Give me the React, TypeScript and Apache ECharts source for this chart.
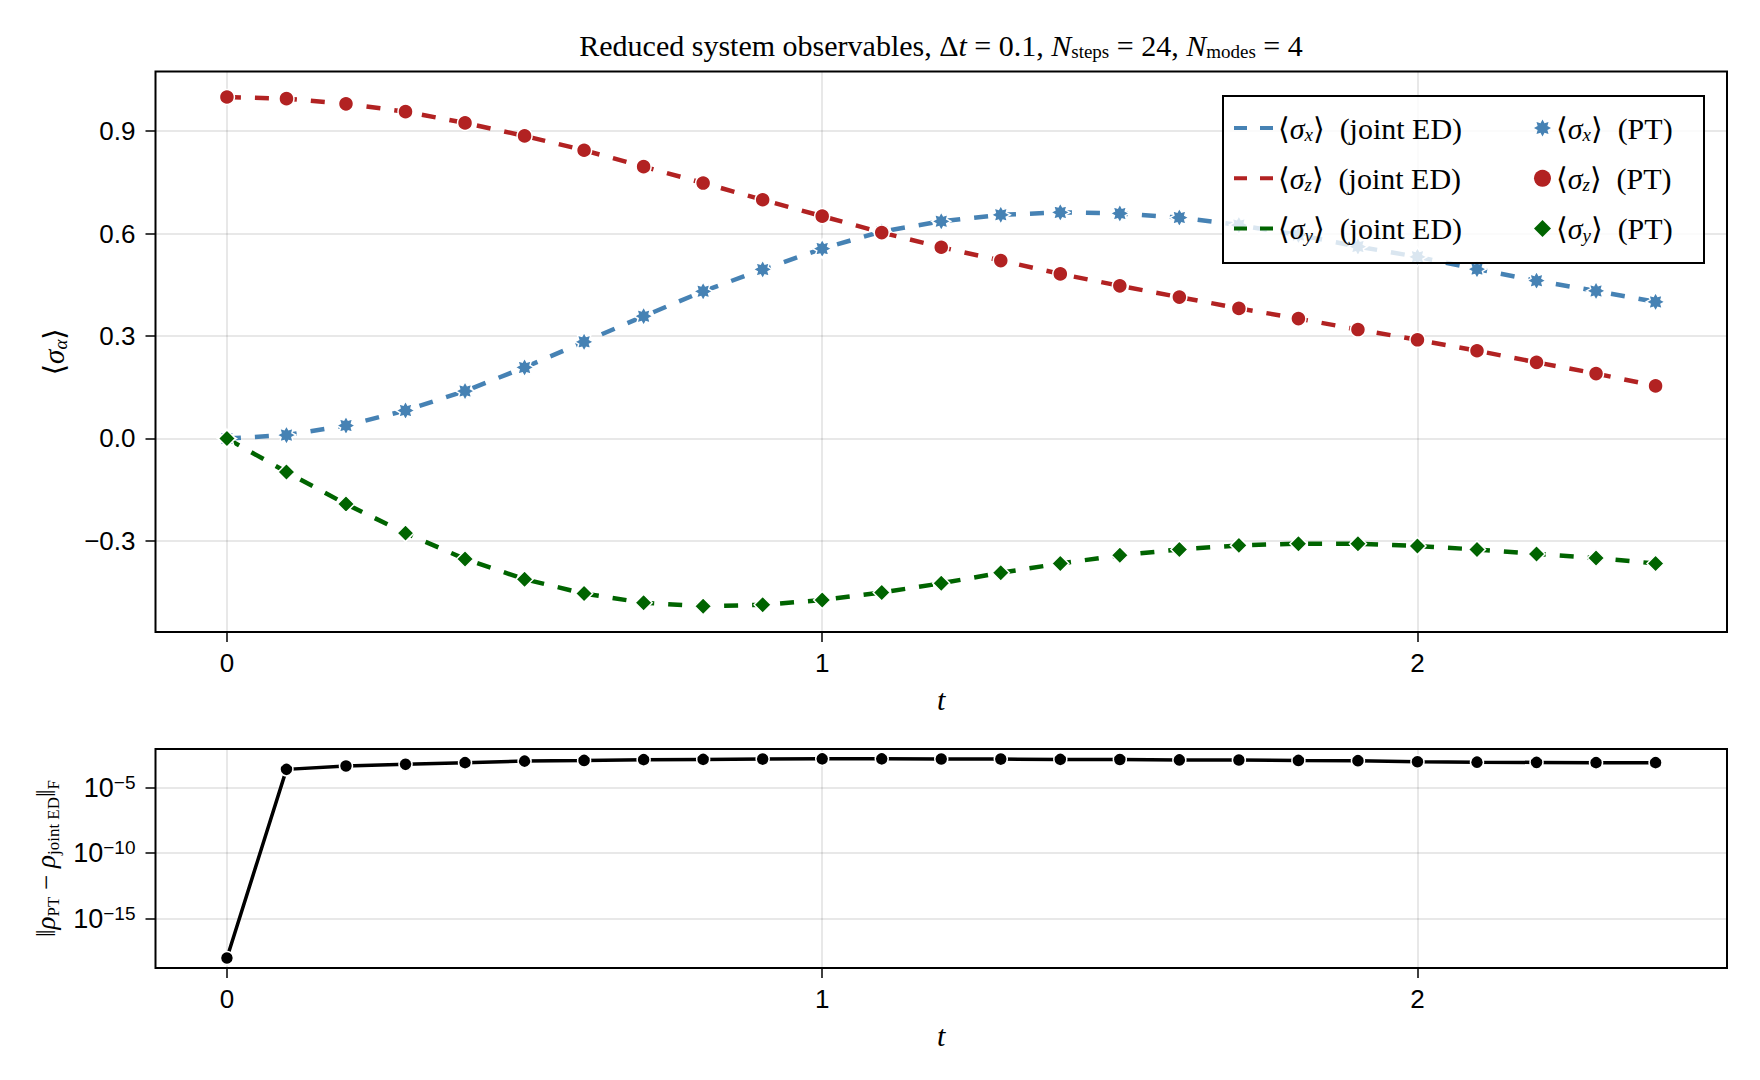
import React, { useEffect, useRef } from "react";
import * as echarts from "echarts";

// ---------- data ----------
const tValues = [0, 0.1, 0.2, 0.3, 0.4, 0.5, 0.6, 0.7, 0.8, 0.9, 1.0, 1.1, 1.2, 1.3, 1.4, 1.5, 1.6, 1.7, 1.8, 1.9, 2.0, 2.1, 2.2, 2.3, 2.4];
const sigmaX = [0, 0.010, 0.038, 0.082, 0.139, 0.208, 0.283, 0.358, 0.431, 0.495, 0.556, 0.606, 0.636, 0.655, 0.662, 0.659, 0.647, 0.625, 0.596, 0.562, 0.532, 0.496, 0.462, 0.432, 0.400];
const sigmaZ = [1.0, 0.995, 0.980, 0.957, 0.924, 0.886, 0.844, 0.796, 0.748, 0.699, 0.651, 0.603, 0.560, 0.521, 0.482, 0.447, 0.414, 0.381, 0.351, 0.319, 0.289, 0.257, 0.223, 0.190, 0.154];
const sigmaY = [0, -0.098, -0.192, -0.277, -0.353, -0.412, -0.454, -0.481, -0.491, -0.487, -0.473, -0.451, -0.424, -0.393, -0.366, -0.342, -0.325, -0.313, -0.308, -0.308, -0.315, -0.325, -0.338, -0.350, -0.366];
const errNorm = [1.07e-18, 2.4e-4, 4.3e-4, 5.8e-4, 7.8e-4, 1.02e-3, 1.15e-3, 1.32e-3, 1.38e-3, 1.45e-3, 1.51e-3, 1.51e-3, 1.48e-3, 1.45e-3, 1.38e-3, 1.35e-3, 1.26e-3, 1.23e-3, 1.15e-3, 1.10e-3, 9.1e-4, 8.5e-4, 8.1e-4, 7.8e-4, 7.8e-4];

const xTicks = [0, 1, 2];
const yTicksTop = [-0.3, 0, 0.3, 0.6, 0.9];
const yTickExponents = [-15, -10, -5];

const componentKeys = ["x", "z", "y"];
const edNames = ["⟨σx⟩ (joint ED)", "⟨σz⟩ (joint ED)", "⟨σy⟩ (joint ED)"];
const ptNames = ["⟨σx⟩ (PT)", "⟨σz⟩ (PT)", "⟨σy⟩ (PT)"];

// ---------- styles ----------
const SERIF = '"Liberation Serif", "DejaVu Serif", serif';
const SANS = '"Liberation Sans", Arial, sans-serif';
const COLORS = ["#4682B4", "#B22222", "#006400"];

const starPts = Array.from({ length: 16 }, (_, k) => {
  const a = -Math.PI / 2 + (k * Math.PI) / 8;
  const r = k % 2 === 0 ? 1 : 0.62;
  return (r * Math.cos(a)).toFixed(3) + "," + (r * Math.sin(a)).toFixed(3);
});
const STAR8 = "path://M" + starPts.join("L") + "Z";
const SYMBOLS = [STAR8, "circle", "diamond"];
const SYMBOL_SIZES = [19, 15, 17];
const DASH_ICON = "path://M0,0h13v4h-13zM26,0h13v4h-13z";

const makeRich = (fs: number, subFs: number) => ({
  r: { fontFamily: SERIF, fontSize: fs, fontWeight: "normal", lineHeight: 32, color: "#000" },
  i: { fontFamily: SERIF, fontSize: fs, fontWeight: "normal", fontStyle: "italic", lineHeight: 32, color: "#000" },
  sub: { fontFamily: SERIF, fontSize: subFs, fontWeight: "normal", fontStyle: "italic", lineHeight: 13, verticalAlign: "bottom", color: "#000" },
  subr: { fontFamily: SERIF, fontSize: subFs, fontWeight: "normal", lineHeight: 13, verticalAlign: "bottom", color: "#000" },
});
const legendRich = makeRich(30, 19);
const titleRich = makeRich(30, 19);
const axisNameRich = makeRich(29, 19);
const bottomNameRich = makeRich(27, 17);

const legendLabel = (name: string) => {
  const idx = edNames.indexOf(name);
  if (idx >= 0) return `{r|⟨}{i|σ}{sub|${componentKeys[idx]}}{r|⟩\u2002(joint ED)}`;
  const j = ptNames.indexOf(name);
  return `{r|⟨}{i|σ}{sub|${componentKeys[j]}}{r|⟩\u2002(PT)}`;
};

const minus = (s: string) => s.replace("-", "−");

function buildOption() {
  const gridLine = { show: true, lineStyle: { color: "rgba(0,0,0,0.12)", width: 1.5 } };
  const tick = (vals: number[]) => ({ show: true, length: 10, inside: false, lineStyle: { color: "#000", width: 1.5 }, customValues: vals });
  const xAxis = (gridIndex: number) => ({
    type: "value",
    gridIndex,
    min: -0.12,
    max: 2.52,
    axisLine: { show: false, onZero: false },
    axisTick: tick(xTicks),
    axisLabel: { customValues: xTicks, margin: 18, fontFamily: SANS, fontSize: 26, color: "#000" },
    splitLine: gridLine,
    name: "t",
    nameLocation: "middle",
    nameGap: 52,
    nameTextStyle: { fontFamily: SERIF, fontStyle: "italic", fontSize: 30, color: "#000" },
  });

  const valuesOf = [sigmaX, sigmaZ, sigmaY];
  const lineSeries = componentKeys.map((_, k) => ({
    type: "line",
    name: edNames[k],
    xAxisIndex: 0,
    yAxisIndex: 0,
    data: tValues.map((t, i) => [t, valuesOf[k][i]]),
    symbol: "none",
    showSymbol: false,
    lineStyle: { color: COLORS[k], width: 4.5, type: [14, 14] },
    itemStyle: { color: COLORS[k] },
    z: 2,
  }));
  const ptSeries = componentKeys.map((_, k) => ({
    type: "scatter",
    name: ptNames[k],
    xAxisIndex: 0,
    yAxisIndex: 0,
    data: tValues.map((t, i) => [t, valuesOf[k][i]]),
    symbol: SYMBOLS[k],
    symbolSize: SYMBOL_SIZES[k],
    itemStyle: { color: COLORS[k], borderColor: "#fff", borderWidth: 1.5, opacity: 1 },
    z: 3,
  }));

  return {
    animation: false,
    backgroundColor: "#fff",
    title: {
      text: "{r|Reduced system observables, Δ}{i|t}{r| = 0.1, }{i|N}{subr|steps}{r| = 24, }{i|N}{subr|modes}{r| = 4}",
      left: 941,
      top: 29,
      textAlign: "center",
      padding: 0,
      textStyle: { fontWeight: "normal", rich: titleRich },
    },
    grid: [
      { left: 155.5, right: 33, top: 71.5, height: 560.5, show: true, borderColor: "#000", borderWidth: 2, backgroundColor: "transparent" },
      { left: 155.5, right: 33, top: 749, height: 219, show: true, borderColor: "#000", borderWidth: 2, backgroundColor: "transparent" },
    ],
    xAxis: [xAxis(0), xAxis(1)],
    yAxis: [
      {
        type: "value",
        gridIndex: 0,
        min: -0.5666,
        max: 1.0746,
        axisLine: { show: false, onZero: false },
        axisTick: tick(yTicksTop),
        axisLabel: {
          customValues: yTicksTop,
          margin: 20,
          fontFamily: SANS,
          fontSize: 26,
          color: "#000",
          formatter: (v: number) => minus(v.toFixed(1)),
        },
        splitLine: gridLine,
        name: "{r|⟨}{i|σ}{sub|α}{r|⟩}",
        nameLocation: "middle",
        nameRotate: 90,
        nameGap: 86,
        nameTextStyle: { rich: axisNameRich },
      },
      {
        type: "value",
        gridIndex: 1,
        min: -18.73,
        max: -2.07,
        axisLine: { show: false, onZero: false },
        axisTick: tick(yTickExponents),
        axisLabel: {
          customValues: yTickExponents,
          margin: 20,
          formatter: (v: number) => `{b|10}{sup|${minus(String(v))}}`,
          rich: {
            b: { fontFamily: SANS, fontSize: 27, lineHeight: 30, color: "#000" },
            sup: { fontFamily: SANS, fontSize: 19, lineHeight: 16, verticalAlign: "top", color: "#000" },
          },
        },
        splitLine: gridLine,
        name: "{r|‖}{i|ρ}{subr|PT}{r| − }{i|ρ}{subr|joint ED}{r|‖}{subr|F}",
        nameLocation: "middle",
        nameRotate: 90,
        nameGap: 92,
        nameTextStyle: { rich: bottomNameRich },
      },
    ],
    legend: [
      {
        data: edNames.map((n) => ({ name: n, icon: DASH_ICON })),
        orient: "vertical",
        left: 1234,
        top: 113,
        padding: 0,
        itemWidth: 39,
        itemHeight: 4,
        itemGap: 19.3,
        itemTextGap: 10,
        selectedMode: false,
        formatter: legendLabel,
        itemStyle: { borderWidth: 0 },
        textStyle: { rich: legendRich },
        z: 10,
      },
      {
        data: ptNames.map((n, k) => ({ name: n, icon: SYMBOLS[k] })),
        orient: "vertical",
        left: 1534,
        top: 113,
        padding: 0,
        itemWidth: 17,
        itemHeight: 17,
        itemGap: 19.3,
        itemTextGap: 21,
        selectedMode: false,
        formatter: legendLabel,
        itemStyle: { borderWidth: 0, opacity: 1 },
        textStyle: { rich: legendRich },
        z: 10,
      },
    ],
    graphic: [
      {
        type: "rect",
        z: 5,
        shape: { x: 1223, y: 96, width: 481, height: 167 },
        style: { fill: "rgba(255,255,255,0.8)", stroke: "#000", lineWidth: 2 },
      },
    ],
    series: [
      ...lineSeries,
      ...ptSeries,
      {
        type: "line",
        name: "error",
        xAxisIndex: 1,
        yAxisIndex: 1,
        data: tValues.map((t, i) => [t, Math.log10(errNorm[i])]),
        symbol: "circle",
        showSymbol: true,
        symbolSize: 13,
        lineStyle: { color: "#000", width: 3.5 },
        itemStyle: { color: "#000", borderColor: "#fff", borderWidth: 1.5, opacity: 1 },
        z: 3,
      },
    ],
  };
}

export default function App() {
  const ref = useRef<HTMLDivElement>(null);
  useEffect(() => {
    if (!ref.current) return;
    const chart = echarts.init(ref.current, null, { renderer: "svg" });
    chart.setOption(buildOption() as any);
    return () => chart.dispose();
  }, []);
  return (
    <div
      ref={ref}
      style={{ position: "fixed", left: 0, top: 0, width: 1760, height: 1080, background: "#fff" }}
    />
  );
}
